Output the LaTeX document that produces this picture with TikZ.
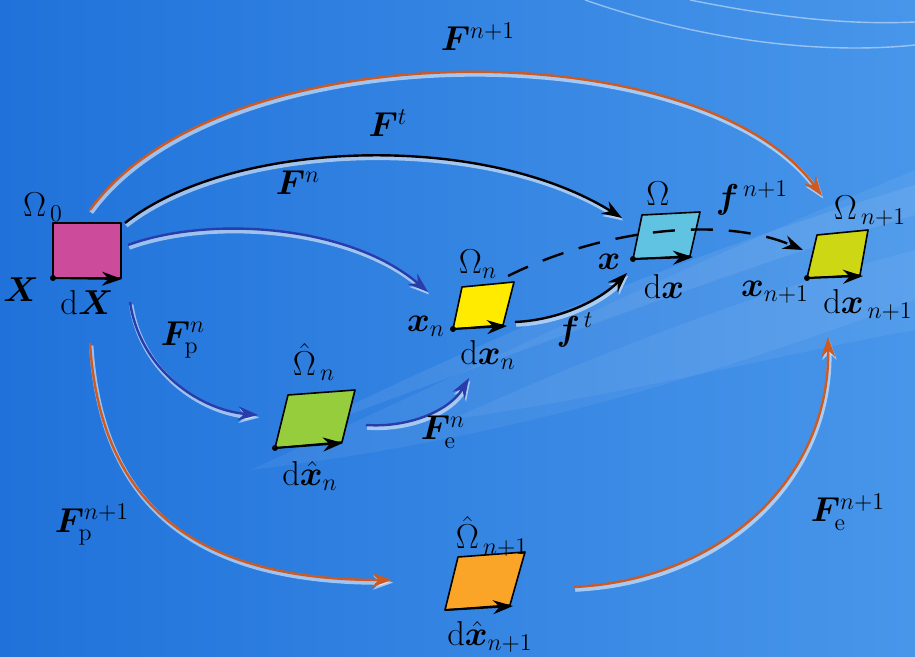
\documentclass[tikz,border=0pt]{standalone}
\usepackage{amsmath,bm}
\usetikzlibrary{arrows.meta}
\definecolor{bgdark}{RGB}{32,114,218}
\definecolor{bglight}{RGB}{72,150,234}
\definecolor{orarrow}{RGB}{205,90,35}
\definecolor{blarrow}{RGB}{40,60,170}
\definecolor{magbox}{RGB}{205,75,155}
\definecolor{yelbox}{RGB}{255,235,0}
\definecolor{cyabox}{RGB}{95,195,225}
\definecolor{ygbox}{RGB}{205,215,20}
\definecolor{grbox}{RGB}{150,205,60}
\definecolor{orbox}{RGB}{250,165,40}
\tikzset{
  lbl/.style={font=\fontsize{17}{19}\selectfont, inner sep=1pt},
  conn/.style={line width=1.2pt, -{Stealth[length=10pt,width=7pt]},
    preaction={draw=white, opacity=0.55, line width=2.2pt,
      transform canvas={xshift=0.6pt,yshift=-1.3pt}}},
  box/.style={draw=black, line width=0.8pt, line join=round},
  vec/.style={line width=1pt, -{Stealth[length=10pt,width=7pt]}},
}
\begin{document}
\begin{tikzpicture}[x=0.5pt,y=-0.5pt]
\useasboundingbox (0,0) rectangle (915,657);
% background
\shade[left color=bgdark, right color=bglight] (0,0) rectangle (915,657);
\fill[white, opacity=0.06] (250,470) .. controls (450,380) and (650,280) .. (915,170)
  -- (915,300) .. controls (700,380) and (500,440) .. (250,470) -- cycle;
\fill[white, opacity=0.08] (280,440) .. controls (500,330) and (700,250) .. (915,185)
  -- (915,215) .. controls (700,280) and (500,360) .. (280,440) -- cycle;
\fill[white, opacity=0.06] (450,420) .. controls (650,330) and (800,280) .. (915,250)
  -- (915,330) .. controls (800,350) and (650,390) .. (450,420) -- cycle;
\draw[white, opacity=0.45, line width=0.7pt] (585,0) .. controls (700,40) and (820,55) .. (915,45);
\draw[white, opacity=0.45, line width=0.7pt] (690,0) .. controls (780,18) and (850,25) .. (915,22);

% ---- boxes ----
% Omega_0
\coordinate (A1) at (53,223); \coordinate (A2) at (121,223);
\coordinate (A3) at (121,278); \coordinate (A4) at (53,278);
\filldraw[box, fill=magbox] (A1) -- (A2) -- (A3) -- (A4) -- cycle;
\coordinate (Avec) at (122,279);
\draw[vec] (A4) -- (Avec);
\fill (A4) circle (3);

% Omega_n
\coordinate (B1) at (462,287); \coordinate (B2) at (514,282);
\coordinate (B3) at (503,325); \coordinate (B4) at (453,329);
\filldraw[box, fill=yelbox] (B1) -- (B2) -- (B3) -- (B4) -- cycle;
\coordinate (Bvec) at (507,326);
\draw[vec] (B4) -- (Bvec);
\fill (B4) circle (3);

% Omega (cyan)
\coordinate (C1) at (642,215); \coordinate (C2) at (700,212);
\coordinate (C3) at (690,256); \coordinate (C4) at (633,259);
\filldraw[box, fill=cyabox] (C1) -- (C2) -- (C3) -- (C4) -- cycle;
\coordinate (Cvec) at (693,257);
\draw[vec] (C4) -- (Cvec);
\fill (C4) circle (3);

% Omega_{n+1}
\coordinate (D1) at (817,235); \coordinate (D2) at (868,230);
\coordinate (D3) at (860,275); \coordinate (D4) at (807,278);
\filldraw[box, fill=ygbox] (D1) -- (D2) -- (D3) -- (D4) -- cycle;
\coordinate (Dvec) at (863,276);
\draw[vec] (D4) -- (Dvec);
\fill (D4) circle (3);

% hat Omega_n
\coordinate (E1) at (288,395); \coordinate (E2) at (355,390);
\coordinate (E3) at (342,442); \coordinate (E4) at (275,448);
\filldraw[box, fill=grbox] (E1) -- (E2) -- (E3) -- (E4) -- cycle;
\coordinate (Evec) at (343,443);
\draw[vec] (E4) -- (Evec);
\fill (E4) circle (3);

% hat Omega_{n+1}
\coordinate (G1) at (458,557); \coordinate (G2) at (525,552);
\coordinate (G3) at (510,605); \coordinate (G4) at (445,610);
\filldraw[box, fill=orbox] (G1) -- (G2) -- (G3) -- (G4) -- cycle;
\coordinate (Gvec) at (513,606);
\draw[vec] (G4) -- (Gvec);

% ---- connector end points ----
\coordinate (s1) at (90,210);  \coordinate (e1) at (822,196);
\coordinate (s2) at (125,223); \coordinate (e2) at (622,218);
\coordinate (s3) at (128,245); \coordinate (e3) at (428,292);
\coordinate (s4) at (130,302); \coordinate (e4) at (258,415);
\coordinate (s5) at (366,425); \coordinate (e5) at (469,378);
\coordinate (s6) at (515,322); \coordinate (e6) at (627,273);
\coordinate (s7) at (90,343);  \coordinate (e7) at (392,580);
\coordinate (s8) at (574,587); \coordinate (e8) at (828,337);
\coordinate (s9) at (508,276); \coordinate (e9) at (803,250);

% ---- connectors ----
\draw[conn, orarrow] (s1) .. controls (220,30) and (700,30) .. (e1);
\draw[conn, black] (s2) .. controls (230,140) and (480,130) .. (e2);
\draw[conn, blarrow] (s3) .. controls (210,215) and (350,225) .. (e3);
\draw[conn, blarrow] (s4) .. controls (140,370) and (200,410) .. (e4);
\draw[conn, blarrow] (s5) .. controls (410,428) and (450,410) .. (e5);
\draw[conn, black] (s6) .. controls (560,320) and (600,300) .. (e6);
\draw[conn, orarrow] (s7) .. controls (100,500) and (190,580) .. (e7);
\draw[conn, orarrow] (s8) .. controls (720,580) and (830,480) .. (e8);
\draw[line width=1.2pt, black, dash pattern=on 11pt off 8pt, -{Stealth[length=10pt,width=7pt]}]
  (s9) .. controls (600,230) and (720,215) .. (e9);

% ---- labels ----
\node[lbl] (lFn1) at (478,37) {$\bm{F}^{n+1}$};
\node[lbl] (lFt) at (388,123) {$\bm{F}^{t}$};
\node[lbl] (lFn) at (298,183) {$\bm{F}^{n}$};
\node[lbl] (lFpn) at (183,340) {$\bm{F}_{\mathrm{p}}^{n}$};
\node[lbl] (lFen) at (443,432) {$\bm{F}_{\mathrm{e}}^{n}$};
\node[lbl] (lft) at (575,330) {$\bm{f}^{\,t}$};
\node[lbl] (lFpn1) at (92,525) {$\bm{F}_{\mathrm{p}}^{n+1}$};
\node[lbl] (lFen1) at (848,512) {$\bm{F}_{\mathrm{e}}^{n+1}$};
\node[lbl] (lfn1) at (752,198) {$\bm{f}^{\,n+1}$};

\node[lbl] (lO0) at (43,207) {$\Omega_{\,0}$};
\node[lbl] (lX) at (21,290) {$\bm{X}$};
\node[lbl] (ldX) at (87,303) {$\mathrm{d}\bm{X}$};
\node[lbl] (lOn) at (478,264) {$\Omega_n$};
\node[lbl] (lxn) at (426,326) {$\bm{x}_n$};
\node[lbl] (ldxn) at (488,355) {$\mathrm{d}\bm{x}_n$};
\node[lbl] (lO) at (658,194) {$\Omega$};
\node[lbl] (lx) at (609,262) {$\bm{x}$};
\node[lbl] (ldx) at (664,287) {$\mathrm{d}\bm{x}$};
\node[lbl] (lOn1) at (870,211) {$\Omega_{\,n+1}$};
\node[lbl] (lxn1) at (775,292) {$\bm{x}_{n+1}$};
\node[lbl] (ldxn1) at (868,305) {$\mathrm{d}\bm{x}_{\,n+1}$};
\node[lbl] (lhOn) at (314,362) {$\hat{\Omega}_{\,n}$};
\node[lbl] (ldhxn) at (310,476) {$\mathrm{d}\hat{\bm{x}}_n$};
\node[lbl] (lhOn1) at (492,536) {$\hat{\Omega}_{\,n+1}$};
\node[lbl] (ldhxn1) at (490,637) {$\mathrm{d}\hat{\bm{x}}_{n+1}$};
\end{tikzpicture}
\end{document}
